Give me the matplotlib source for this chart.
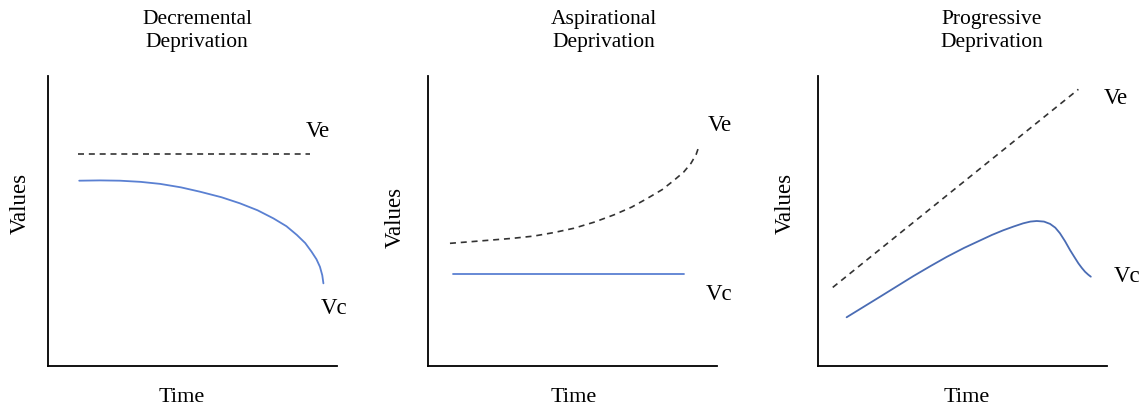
import numpy as np
import matplotlib.pyplot as plt

plt.rcParams['font.family'] = ['Liberation Serif', 'DejaVu Serif']

titles = ["Decremental\nDeprivation", "Aspirational\nDeprivation", "Progressive\nDeprivation"]

# panel 1: decremental
ve1_x = [10.3, 90.7]
ve1_y = [73.2, 73.2]
vc1_x = [10.8, 18, 24.9, 32, 38.8, 46, 52.6, 60, 66.4, 72.5, 78.0, 82.5, 86.1, 89, 91.2, 92.9, 94.1, 94.9, 95.3]
vc1_y = [63.9, 64.0, 63.9, 63.5, 62.8, 61.6, 60.1, 58.2, 56.1, 53.7, 50.9, 48.2, 45.2, 42.4, 39.4, 36.8, 34.2, 31.3, 28.5]

# panel 2: aspirational
ve2_x = [7.6, 14, 21.5, 29, 36.6, 43.5, 50.5, 57.5, 64.3, 70.5, 75.9, 81, 85.2, 88.5, 91.0, 92.8, 93.9]
ve2_y = [42.3, 42.8, 43.4, 44.0, 44.8, 46.0, 47.5, 49.6, 52.1, 54.8, 57.8, 60.8, 64.1, 66.9, 69.9, 73.0, 76.2]
vc2_x = [8.6, 88.6]
vc2_y = [31.6, 31.6]

# panel 3: progressive
ve3_x = [5.1, 90.1]
ve3_y = [27.1, 95.4]
vc3_x = [9.9, 21.5, 33.0, 39, 44.5, 50.5, 56.1, 60.2, 64.1, 67.7, 71.0, 73.5, 75.7, 78.2, 80.3, 82.1, 83.7, 85.5, 87.2, 88.7, 90.1, 91.3, 92.4, 93.5, 94.4]
vc3_y = [16.8, 23.9, 31.0, 34.5, 37.6, 40.7, 43.3, 45.2, 46.8, 48.1, 49.2, 49.8, 50.0, 49.8, 49.0, 47.7, 45.8, 43.0, 40.0, 37.6, 35.4, 33.8, 32.5, 31.5, 30.8]

labels_ve = [(93.4, 80.7), (100.8, 83.1), (103.0, 92.3)]
labels_vc = [(99.0, 19.7), (100.8, 24.5), (106.8, 30.8)]

fig = plt.figure(figsize=(11.43, 4.12), dpi=100)
W, H = 1143, 412
lefts = [48, 428, 818]
axw, top, bottom = 289, 76, 366
title_x = [197, 604, 992]
values_pos = [(20, 203), (395, 217), (785, 203)]
time_x = [182, 574, 967]

blue = ["#5a80d2", "#5a80d2", "#4a6cb4"]
dash = (0, (3.6, 2.9))

data = [
    (ve1_x, ve1_y, vc1_x, vc1_y),
    (ve2_x, ve2_y, vc2_x, vc2_y),
    (ve3_x, ve3_y, vc3_x, vc3_y),
]

for i in range(3):
    ax = fig.add_axes([lefts[i] / W, 1 - bottom / H, axw / W, (bottom - top) / H])
    vex, vey, vcx, vcy = data[i]
    ax.plot(vex, vey, color="#333333", lw=1.2, linestyle=dash)
    ax.plot(vcx, vcy, color=blue[i], lw=1.3, solid_capstyle='round', solid_joinstyle='round')
    ax.set_xlim(0, 100)
    ax.set_ylim(0, 100)
    ax.spines['top'].set_visible(False)
    ax.spines['right'].set_visible(False)
    ax.spines['left'].set_linewidth(1.3)
    ax.spines['bottom'].set_linewidth(1.3)
    ax.set_xticks([])
    ax.set_yticks([])
    ax.text(labels_ve[i][0], labels_ve[i][1], "Ve", fontsize=16.5, ha='center', va='center', clip_on=False)
    ax.text(labels_vc[i][0], labels_vc[i][1], "Vc", fontsize=16.5, ha='center', va='center', clip_on=False)
    fig.text(title_x[i] / W, 1 - 31 / H, titles[i], fontsize=15.5, ha='center', va='center', linespacing=1.35)
    fig.text(values_pos[i][0] / W, 1 - values_pos[i][1] / H, "Values", fontsize=16.5, rotation=90, ha='center', va='center')
    fig.text(time_x[i] / W, 1 - 398 / H, "Time", fontsize=16, ha='center', va='center')

fig.savefig("out.png", dpi=100)
